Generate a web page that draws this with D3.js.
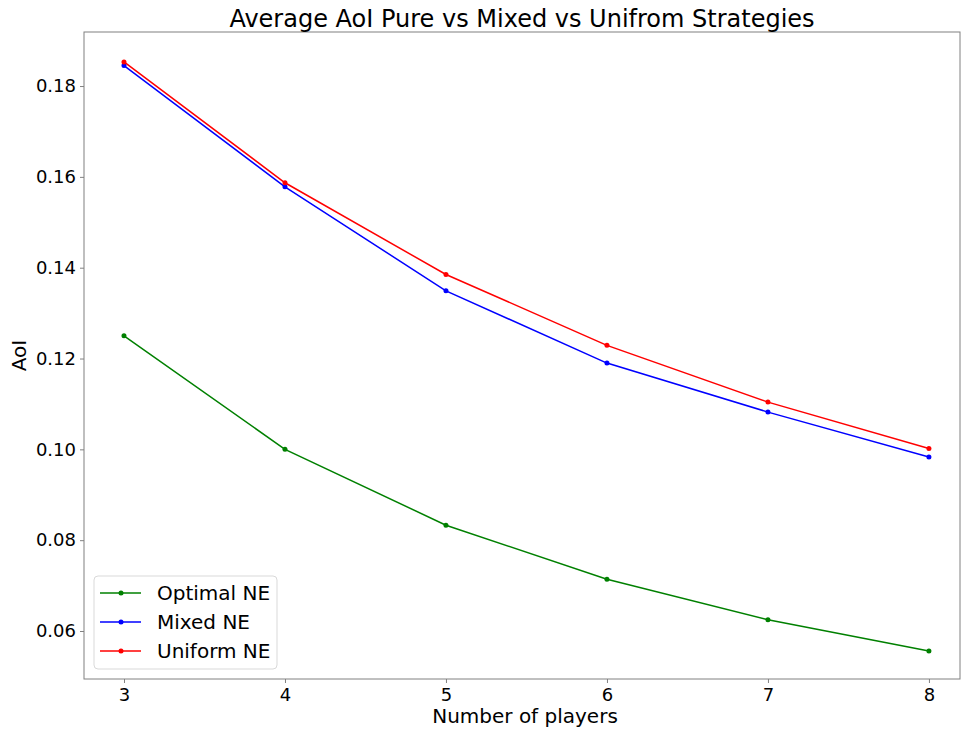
<!DOCTYPE html>
<html><head><meta charset="utf-8">
<script src="https://cdn.jsdelivr.net/npm/d3@7"></script>
<style>body{margin:0;background:#fff;} svg{font-family:"DejaVu Sans",sans-serif;}</style>
</head><body>
<svg id="c" width="961" height="729"></svg>
<script>
const players = [3, 4, 5, 6, 7, 8];
const optimalNE = [0.125, 0.1, 0.0833, 0.0714, 0.0625, 0.0556];
const mixedNE = [0.1845, 0.1578, 0.1349, 0.1190, 0.1082, 0.0983];
const uniformNE = [0.1853, 0.1587, 0.1385, 0.1229, 0.1104, 0.1002];
const yTicks = [0.06, 0.08, 0.10, 0.12, 0.14, 0.16, 0.18];
const seriesNames = ["Optimal NE", "Mixed NE", "Uniform NE"];
const seriesColors = ["#008000", "#0000ff", "#ff0000"];
const seriesData = [optimalNE, mixedNE, uniformNE];

const L = 84, R = 960, T = 32, B = 679;
const svg = d3.select("#c");
const x = d3.scaleLinear().domain([2.7516, 8.193]).range([L, R]);
const y = d3.scaleLinear().domain([0.04943, 0.1919]).range([B, T]);

const xAxis = svg.append("g").attr("transform", `translate(0,${B})`)
  .call(d3.axisBottom(x).tickValues(players).tickFormat(d3.format("d")).tickSize(4).tickPadding(5));
const yAxis = svg.append("g").attr("transform", `translate(${L},0)`)
  .call(d3.axisLeft(y).tickValues(yTicks).tickFormat(d3.format(".2f")).tickSize(4).tickPadding(4));
[xAxis, yAxis].forEach(a => {
  a.select(".domain").remove();
  a.selectAll("line").attr("stroke", "#808080");
  a.selectAll("text").attr("font-size", 18).attr("fill", "#000").attr("font-family", "DejaVu Sans");
});

svg.append("rect").attr("x", L).attr("y", T).attr("width", R - L).attr("height", B - T)
  .attr("fill", "none").attr("stroke", "#808080").attr("stroke-width", 1);

const line = d3.line().x((d, i) => x(players[i])).y(d => y(d));
seriesData.forEach((s, k) => {
  svg.append("path").datum(s).attr("d", line).attr("fill", "none")
    .attr("stroke", seriesColors[k]).attr("stroke-width", 1.5);
  svg.selectAll(null).data(s).enter().append("circle")
    .attr("cx", (d, i) => x(players[i])).attr("cy", d => y(d)).attr("r", 2.5)
    .attr("fill", seriesColors[k]);
});

svg.append("text").attr("x", 522).attr("y", 27).attr("text-anchor", "middle")
  .attr("font-size", 24).text("Average AoI Pure vs Mixed vs Unifrom Strategies");
svg.append("text").attr("x", 525).attr("y", 723).attr("text-anchor", "middle")
  .attr("font-size", 20).text("Number of players");
svg.append("text").attr("transform", `translate(26,${(T + B) / 2}) rotate(-90)`)
  .attr("text-anchor", "middle").attr("font-size", 20).text("AoI");

// legend
const lg = svg.append("g");
lg.append("rect").attr("x", 94).attr("y", 576).attr("width", 183).attr("height", 93)
  .attr("rx", 4).attr("fill", "#fff").attr("stroke", "#d9d9d9");
seriesNames.forEach((n, k) => {
  const yy = 593 + k * 29;
  lg.append("line").attr("x1", 100).attr("x2", 141).attr("y1", yy).attr("y2", yy)
    .attr("stroke", seriesColors[k]).attr("stroke-width", 1.5);
  lg.append("circle").attr("cx", 121).attr("cy", yy).attr("r", 2.5).attr("fill", seriesColors[k]);
  lg.append("text").attr("x", 157).attr("y", yy + 7).attr("font-size", 20).text(n);
});
</script>
</body></html>
